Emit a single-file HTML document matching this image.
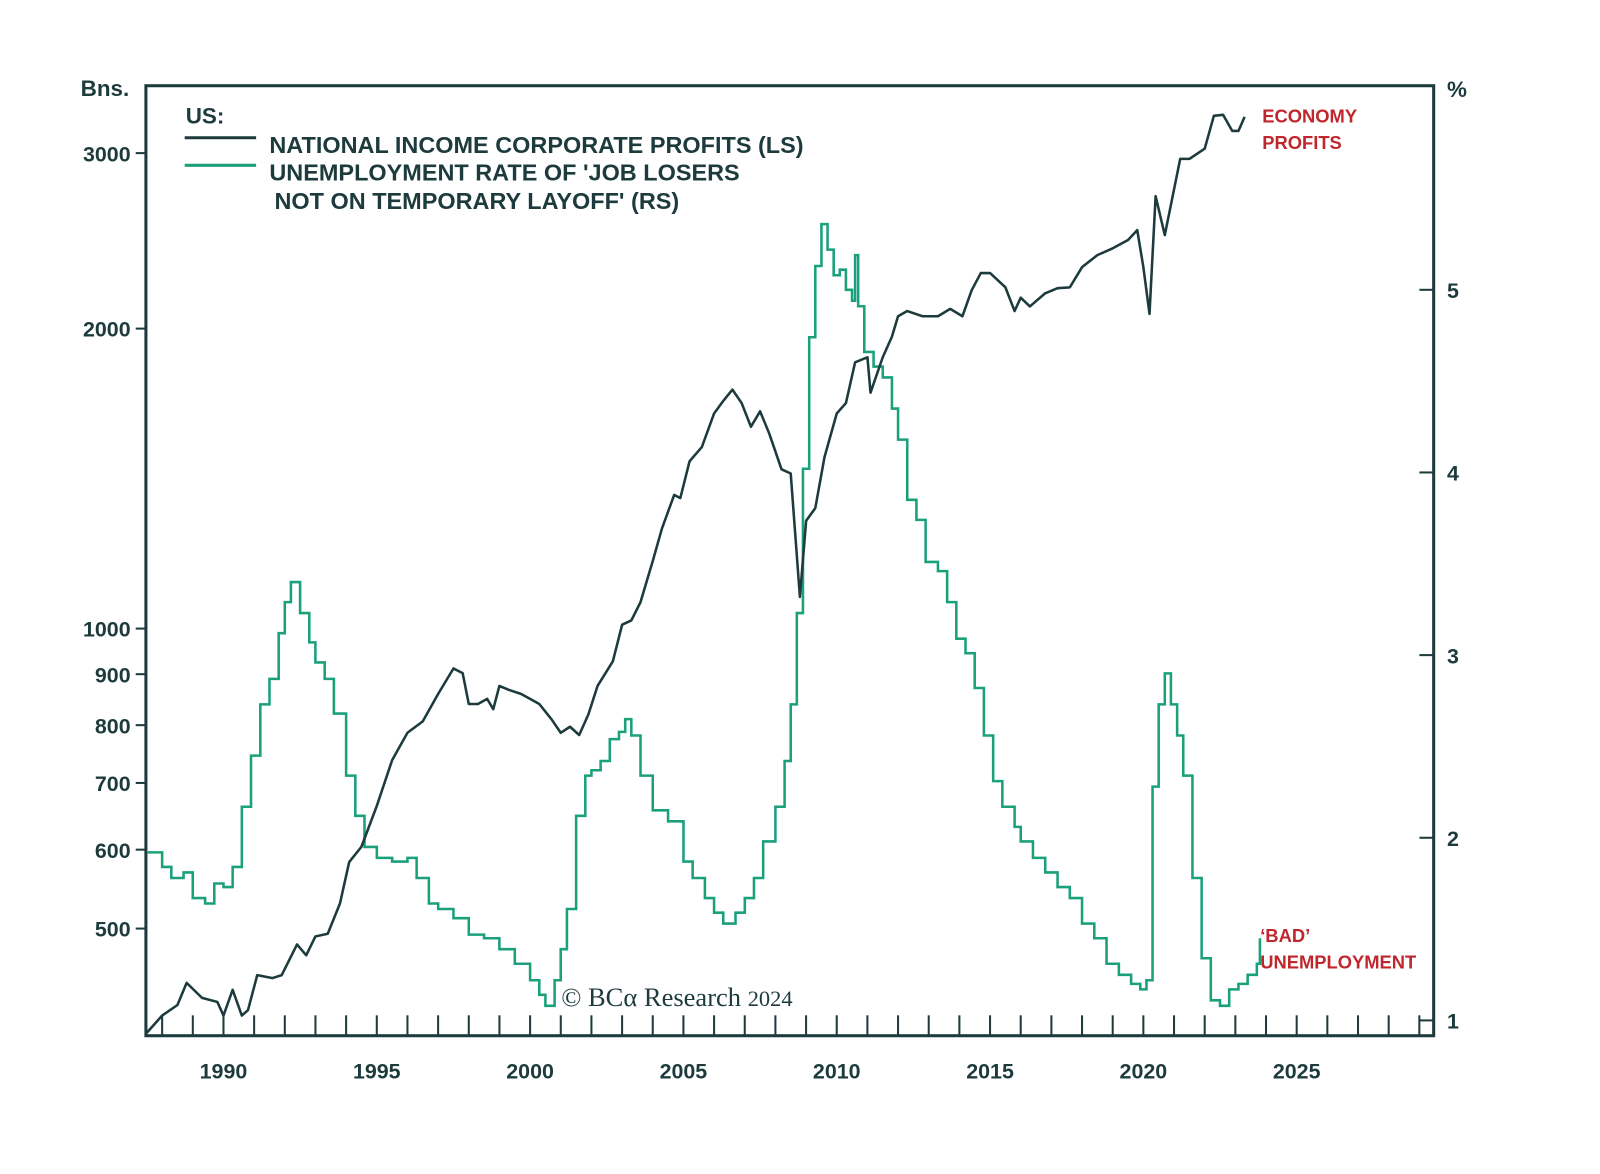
<!DOCTYPE html>
<html><head><meta charset="utf-8"><style>
html,body{margin:0;padding:0;background:#fff;}
svg{display:block;font-family:"Liberation Sans",sans-serif;}
</style></head><body>
<svg id="chart" width="1600" height="1174" viewBox="0 0 1568 1150.5" xmlns="http://www.w3.org/2000/svg">
<g id="frame"></g>
<g id="axes"></g>
<g id="series"></g>
<g>
<text x="182" y="121" font-size="22" font-weight="bold" fill="#1d3b3d">US:</text>
<line x1="181" y1="135" x2="251" y2="135" stroke="#1d3b3d" stroke-width="3"/>
<line x1="181" y1="162" x2="251" y2="162" stroke="#1ba07c" stroke-width="3"/>
<text x="264" y="150" font-size="23" font-weight="bold" fill="#1d3b3d">NATIONAL INCOME CORPORATE PROFITS (LS)</text>
<text x="264" y="177" font-size="23" font-weight="bold" fill="#1d3b3d">UNEMPLOYMENT RATE OF 'JOB LOSERS</text>
<text x="269" y="205" font-size="23" font-weight="bold" fill="#1d3b3d">NOT ON TEMPORARY LAYOFF' (RS)</text>
</g>
<text x="79" y="94" font-size="22" font-weight="bold" fill="#1d3b3d">Bns.</text>
<text x="1418" y="95" font-size="22" font-weight="bold" fill="#1d3b3d">%</text>
<text x="1237" y="120" font-size="18" font-weight="bold" fill="#c0272d">ECONOMY</text>
<text x="1237" y="146" font-size="18" font-weight="bold" fill="#c0272d">PROFITS</text>
<text x="1235" y="923" font-size="18" font-weight="bold" fill="#c0272d">‘BAD’</text>
<text x="1235" y="949" font-size="18" font-weight="bold" fill="#c0272d">UNEMPLOYMENT</text>
<text x="550" y="986" font-size="26" font-family="Liberation Serif,serif" fill="#1d3b3d">© BCα Research <tspan font-size="22">2024</tspan></text>
</svg>
<script>
const profitYears=[1987.5,1988.0,1988.5,1988.8,1989.3,1989.8,1990.0,1990.3,1990.6,1990.8,1991.1,1991.6,1991.9,1992.4,1992.7,1993.0,1993.4,1993.8,1994.1,1994.5,1995.0,1995.5,1996.0,1996.5,1997.0,1997.5,1997.8,1998.0,1998.3,1998.6,1998.8,1999.0,1999.3,1999.7,2000.0,2000.3,2000.7,2001.0,2001.3,2001.6,2001.9,2002.2,2002.7,2003.0,2003.3,2003.6,2004.0,2004.3,2004.7,2004.9,2005.2,2005.6,2006.0,2006.3,2006.6,2006.9,2007.2,2007.5,2007.8,2008.2,2008.5,2008.8,2009.0,2009.3,2009.6,2010.0,2010.3,2010.6,2011.0,2011.1,2011.5,2011.8,2012.0,2012.3,2012.8,2013.3,2013.7,2014.1,2014.4,2014.7,2015.0,2015.5,2015.8,2016.0,2016.3,2016.8,2017.2,2017.6,2018.0,2018.5,2019.0,2019.5,2019.8,2020.0,2020.2,2020.4,2020.7,2021.2,2021.5,2022.0,2022.3,2022.6,2022.9,2023.1,2023.3];
const profitValues=[393,409,419,441,426,422,409,434,409,414,449,446,449,482,470,491,494,530,583,604,664,738,786,807,860,912,902,840,840,850,830,876,868,860,850,840,811,786,797,782,820,876,927,1009,1019,1063,1169,1260,1362,1352,1472,1521,1644,1692,1737,1684,1594,1652,1569,1445,1431,1076,1283,1321,1486,1644,1684,1850,1872,1725,1872,1963,2058,2083,2058,2058,2093,2058,2185,2274,2274,2200,2083,2148,2105,2170,2196,2200,2305,2370,2408,2454,2511,2305,2069,2716,2482,2960,2960,3031,3270,3278,3158,3158,3262];
const unempYears=[1987.5,1987.8,1988.0,1988.3,1988.7,1989.0,1989.4,1989.7,1990.0,1990.3,1990.6,1990.9,1991.2,1991.5,1991.8,1992.0,1992.2,1992.5,1992.8,1993.0,1993.3,1993.6,1994.0,1994.3,1994.6,1995.0,1995.5,1996.0,1996.3,1996.7,1997.0,1997.5,1998.0,1998.5,1999.0,1999.5,2000.0,2000.3,2000.5,2000.8,2001.0,2001.2,2001.5,2001.8,2002.0,2002.3,2002.6,2002.9,2003.1,2003.3,2003.6,2004.0,2004.5,2005.0,2005.3,2005.7,2006.0,2006.3,2006.7,2007.0,2007.3,2007.6,2008.0,2008.3,2008.5,2008.7,2008.9,2009.1,2009.3,2009.5,2009.7,2009.9,2010.1,2010.3,2010.5,2010.6,2010.7,2010.9,2011.2,2011.5,2011.8,2012.0,2012.3,2012.6,2012.9,2013.3,2013.6,2013.9,2014.2,2014.5,2014.8,2015.1,2015.4,2015.8,2016.0,2016.4,2016.8,2017.2,2017.6,2018.0,2018.4,2018.8,2019.2,2019.6,2019.9,2020.1,2020.3,2020.5,2020.7,2020.9,2021.1,2021.3,2021.6,2021.9,2022.2,2022.5,2022.8,2023.1,2023.4,2023.7,2023.8];
const unempValues=[1.92,1.92,1.84,1.78,1.81,1.67,1.64,1.75,1.73,1.84,2.17,2.45,2.73,2.87,3.12,3.29,3.40,3.23,3.07,2.96,2.87,2.68,2.34,2.12,1.95,1.89,1.87,1.89,1.78,1.64,1.61,1.56,1.47,1.45,1.39,1.31,1.22,1.14,1.08,1.22,1.39,1.61,2.12,2.34,2.37,2.42,2.54,2.58,2.65,2.56,2.34,2.15,2.09,1.87,1.78,1.67,1.59,1.53,1.59,1.67,1.78,1.98,2.17,2.42,2.73,3.23,4.02,4.74,5.13,5.36,5.22,5.08,5.11,5.00,4.94,5.19,4.91,4.66,4.58,4.52,4.35,4.18,3.85,3.74,3.51,3.46,3.29,3.09,3.01,2.82,2.56,2.31,2.17,2.06,1.98,1.89,1.81,1.73,1.67,1.53,1.45,1.31,1.25,1.20,1.17,1.22,2.28,2.73,2.90,2.73,2.56,2.34,1.78,1.34,1.11,1.08,1.17,1.20,1.25,1.31,1.45];
const leftTicks=[500,600,700,800,900,1000,2000,3000];
const rightTicks=[1,2,3,4,5];
const xTicks=[1990,1995,2000,2005,2010,2015,2020,2025];

const NS="http://www.w3.org/2000/svg";
const L=143,R=1405,T=84,B=1015,INK="#1d3b3d";
const xs=y=>219+30.05*(y-1990);
const yl=v=>616-976.6*Math.log10(v/1000);
const yr=v=>1000-179*(v-1);
function mk(tag,attrs,parent){const e=document.createElementNS(NS,tag);for(const k in attrs)e.setAttribute(k,attrs[k]);document.getElementById(parent).appendChild(e);return e;}

let f=mk('rect',{x:L,y:T,width:R-L,height:B-T,fill:'none',stroke:INK,'stroke-width':3},'frame');



leftTicks.forEach(v=>{
  const y=yl(v);
  let t=mk('line',{x1:L-10,x2:L,y1:y,y2:y,stroke:INK,'stroke-width':2},'axes');
  
  
  let s=mk('text',{x:128,y:y+8,'text-anchor':'end','font-size':21,'font-weight':'bold',fill:INK},'axes');
  s.textContent=v;
  
  
});
rightTicks.forEach(v=>{
  const y=yr(v);
  let t=mk('line',{x1:R-14,x2:R,y1:y,y2:y,stroke:INK,'stroke-width':2},'axes');
  
  
  let s=mk('text',{x:1418,y:y+8,'font-size':21,'font-weight':'bold',fill:INK},'axes');
  s.textContent=v;
  
  
});
for(let yy=1988;yy<=2029;yy++){
  const x=xs(yy);
  let t=mk('line',{x1:x,x2:x,y1:B-20,y2:B,stroke:INK,'stroke-width':2},'axes');
  
  
}
xTicks.forEach(v=>{
  let s=mk('text',{x:xs(v),y:1057,'text-anchor':'middle','font-size':21,'font-weight':'bold',fill:INK},'axes');
  s.textContent=v;
  
  
});

let d='';
unempYears.forEach((yy,i)=>{const x=xs(yy),y=yr(unempValues[i]);d+=i?('H'+x.toFixed(1)+'V'+y.toFixed(1)):('M'+x.toFixed(1)+','+y.toFixed(1));});
let u=mk('path',{d:d,fill:'none',stroke:'#1ba07c','stroke-width':2.5},'series');



let d2='';
profitYears.forEach((yy,i)=>{d2+=(i?'L':'M')+xs(yy).toFixed(1)+','+yl(profitValues[i]).toFixed(1);});
let p=mk('path',{d:d2,fill:'none',stroke:INK,'stroke-width':2.5,'stroke-linejoin':'round'},'series');


</script>
</body></html>
